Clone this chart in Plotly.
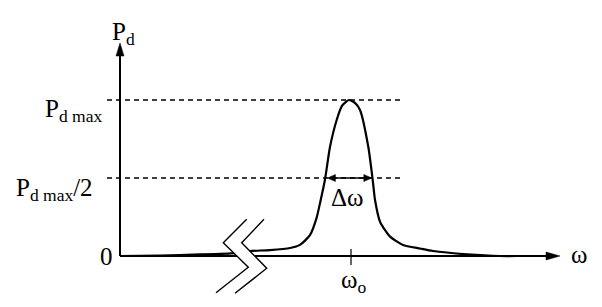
import plotly.graph_objects as go

# ---- data (omega in units of omega_0, power in units of P_d max) ----
omega = [0.0, 0.173, 0.346, 0.498, 0.563, 0.649, 0.736, 0.779, 0.823, 0.851, 0.866,
         0.887, 0.909, 0.938, 0.961, 0.991, 1.017, 1.039, 1.075, 1.094, 1.104, 1.126,
         1.169, 1.225, 1.299, 1.355, 1.502, 1.645, 1.72]
power = [0.0, 0.003, 0.010, 0.019, 0.032, 0.038, 0.051, 0.071, 0.135, 0.244, 0.340,
         0.487, 0.699, 0.872, 0.962, 1.0, 0.981, 0.936, 0.699, 0.487, 0.359, 0.218,
         0.124, 0.071, 0.048, 0.032, 0.011, 0.0, 0.0]
omega0 = 1.0
p_max = 1.0
p_half = 0.5
delta_lo, delta_hi = 0.898, 1.090

# ---- layout helpers (pixel -> data for decorations) ----
W, H = 602, 307
OX, OY = 120, 256       # pixel position of origin
SX, SY = 231.0, 156.0   # pixels per data unit


def dx(px):
    return (px - OX) / SX


def dy(py):
    return (OY - py) / SY


def px_len_x(p):
    return p / SX


def px_len_y(p):
    return p / SY


FONT = "Liberation Serif"
BLACK = "#000"

fig = go.Figure()

# resonance curve
fig.add_trace(go.Scatter(x=omega, y=power, mode="lines",
                         line=dict(color=BLACK, width=2.2, shape="spline", smoothing=0.6),
                         hoverinfo="skip", showlegend=False))

shapes = []
# dashed reference lines
for lvl in (p_max, p_half):
    shapes.append(dict(type="line", xref="x", yref="y", x0=dx(107), x1=dx(403), y0=lvl, y1=lvl,
                       line=dict(color=BLACK, width=1.4, dash="5px,4px"), layer="below"))

# axes
x_tip = dx(560)
y_tip = dy(43)
shapes.append(dict(type="line", xref="x", yref="y", x0=0, x1=x_tip - px_len_x(10), y0=0, y1=0,
                   line=dict(color=BLACK, width=1.8)))
shapes.append(dict(type="line", xref="x", yref="y", x0=0, x1=0, y0=0, y1=y_tip - px_len_y(10),
                   line=dict(color=BLACK, width=2)))


def tri(pts):
    return "M " + " L ".join(f"{a},{b}" for a, b in pts) + " Z"


# x arrow head
shapes.append(dict(type="path", xref="x", yref="y",
                   path=tri([(x_tip, 0), (x_tip - px_len_x(14), px_len_y(4)),
                             (x_tip - px_len_x(14), -px_len_y(4))]),
                   fillcolor=BLACK, line=dict(color=BLACK, width=0.5)))
# y arrow head
shapes.append(dict(type="path", xref="x", yref="y",
                   path=tri([(0, y_tip), (-px_len_x(4), y_tip - px_len_y(13)),
                             (px_len_x(4), y_tip - px_len_y(13))]),
                   fillcolor=BLACK, line=dict(color=BLACK, width=0.5)))

# omega0 tick
shapes.append(dict(type="line", xref="x", yref="y", x0=omega0, x1=omega0,
                   y0=px_len_y(7), y1=-px_len_y(9), line=dict(color=BLACK, width=1.2)))

# delta omega double arrow
ah = px_len_x(8)
aw = px_len_y(3.5)
shapes.append(dict(type="line", xref="x", yref="y", x0=delta_lo + ah * 0.5, x1=delta_hi - ah * 0.5,
                   y0=p_half, y1=p_half, line=dict(color=BLACK, width=1.6)))
shapes.append(dict(type="path", xref="x", yref="y",
                   path=tri([(delta_lo, p_half), (delta_lo + ah, p_half + aw), (delta_lo + ah, p_half - aw)]),
                   fillcolor=BLACK, line=dict(color=BLACK, width=0.5)))
shapes.append(dict(type="path", xref="x", yref="y",
                   path=tri([(delta_hi, p_half), (delta_hi - ah, p_half + aw), (delta_hi - ah, p_half - aw)]),
                   fillcolor=BLACK, line=dict(color=BLACK, width=0.5)))

# axis break symbol
z1 = [(246.7, 219.3), (223.3, 242.7), (248.3, 267.3), (216, 292.7)]
z2 = [(264, 219.3), (241.7, 242.7), (266.7, 268.3), (235, 293.3)]
band = z1 + z2[::-1]
shapes.append(dict(type="path", xref="x", yref="y",
                   path=tri([(dx(a), dy(b)) for a, b in band]),
                   fillcolor="white", line=dict(color="white", width=0)))
for z in (z1, z2):
    shapes.append(dict(type="path", xref="x", yref="y",
                       path="M " + " L ".join(f"{dx(a)},{dy(b)}" for a, b in z),
                       line=dict(color=BLACK, width=1.4)))

ann = []


def label(text, px, py, xanchor="center", size=25):
    ann.append(dict(text=text, x=dx(px), y=dy(py), xref="x", yref="y", showarrow=False,
                    xanchor=xanchor, yanchor="middle",
                    font=dict(family=FONT, size=size, color=BLACK)))


label("P<sub>d</sub>", 123, 33)
label("P<sub>d max</sub>", 104, 110, xanchor="right")
label("P<sub>d max</sub>/2", 95, 189, xanchor="right")
label("0", 106, 256)
label("ω", 579, 254)
label("ω<sub>o</sub>", 353, 281)
label("Δω", 347, 197)

fig.update_layout(
    width=W, height=H, margin=dict(l=0, r=0, t=0, b=0),
    paper_bgcolor="white", plot_bgcolor="white",
    xaxis=dict(range=[dx(0), dx(W)], visible=False, fixedrange=True),
    yaxis=dict(range=[dy(H), dy(0)], visible=False, fixedrange=True),
    shapes=shapes, annotations=ann, showlegend=False,
)

fig.write_html("out.html")
